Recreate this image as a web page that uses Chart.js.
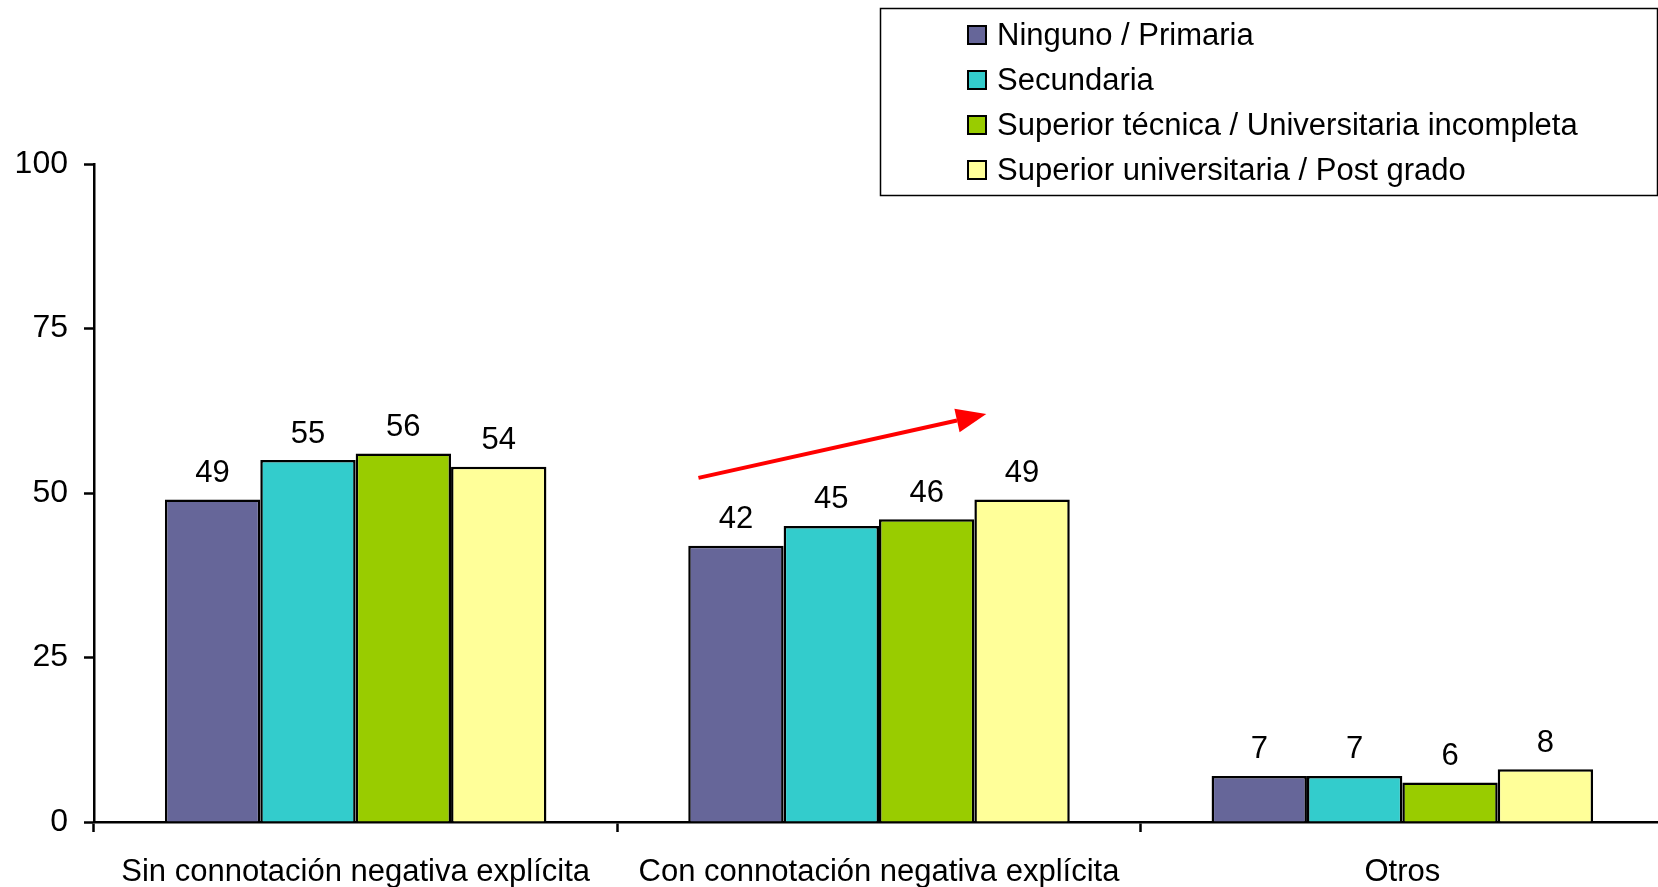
<!DOCTYPE html>
<html>
<head>
<meta charset="utf-8">
<script src="https://cdn.jsdelivr.net/npm/chart.js@4.4.1/dist/chart.umd.min.js"></script>
<style>
html,body{margin:0;padding:0;background:#fff;overflow:hidden;}
#wrap{width:1658px;height:887px;position:relative;overflow:hidden;}
canvas{display:block;}
</style>
</head>
<body>
<div id="wrap"><canvas id="c" width="1664" height="887"></canvas></div>
<script>
// ---- data ----
const categories = ["Sin connotación negativa explícita", "Con connotación negativa explícita", "Otros"];
const seriesNames = ["Ninguno / Primaria", "Secundaria", "Superior técnica / Universitaria incompleta", "Superior universitaria / Post grado"];
const ningunoPrimaria = [49, 42, 7];
const secundaria = [55, 45, 7];
const superiorTecnica = [56, 46, 6];
const superiorUniversitaria = [54, 49, 8];
const yTicks = [0, 25, 50, 75, 100];
// trend arrow annotation, in data space (category index, value)
const arrowFrom = [0.655, 52.3];
const arrowTo = [1.205, 62.0];

const colors = ["#666699", "#33CCCC", "#99CC00", "#FFFF99"];
const FONT = "'Liberation Sans', Arial, sans-serif";

const seriesValues = [ningunoPrimaria, secundaria, superiorTecnica, superiorUniversitaria];

const valueLabels = {
  id: 'valueLabels',
  afterDatasetsDraw(chart) {
    const ctx = chart.ctx;
    ctx.save();
    ctx.font = "31px " + FONT;
    ctx.fillStyle = "#000";
    ctx.textAlign = "center";
    ctx.textBaseline = "middle";
    chart.data.datasets.forEach((ds, i) => {
      chart.getDatasetMeta(i).data.forEach((el, j) => {
        ctx.fillText(String(ds.data[j]), el.x, el.y - 26);
      });
    });
    ctx.restore();
  }
};

const boxLegend = {
  id: 'boxLegend',
  afterDraw(chart) {
    const ctx = chart.ctx;
    ctx.save();
    ctx.strokeStyle = "#000";
    ctx.lineWidth = 1.5;
    ctx.strokeRect(880.5, 8.5, 777, 187);
    ctx.font = "31px " + FONT;
    ctx.textAlign = "left";
    ctx.textBaseline = "middle";
    chart.data.datasets.forEach((ds, i) => {
      const cy = 35 + i * 45;
      ctx.fillStyle = ds.backgroundColor;
      ctx.fillRect(968, cy - 9, 18, 18);
      ctx.lineWidth = 2;
      ctx.strokeRect(968, cy - 9, 18, 18);
      ctx.fillStyle = "#000";
      ctx.fillText(ds.label, 997, cy + 1);
    });
    ctx.restore();
  }
};

const trendArrow = {
  id: 'trendArrow',
  afterDatasetsDraw(chart) {
    const xs = chart.scales.x, ys = chart.scales.y;
    const x0 = xs.getPixelForValue(arrowFrom[0]), y0 = ys.getPixelForValue(arrowFrom[1]);
    const x1 = xs.getPixelForValue(arrowTo[0]), y1 = ys.getPixelForValue(arrowTo[1]);
    const ctx = chart.ctx;
    const ang = Math.atan2(y1 - y0, x1 - x0);
    const headLen = 30, headW = 12;
    const bx = x1 - headLen * Math.cos(ang), by = y1 - headLen * Math.sin(ang);
    ctx.save();
    ctx.strokeStyle = "#FF0000";
    ctx.fillStyle = "#FF0000";
    ctx.lineWidth = 4;
    ctx.beginPath();
    ctx.moveTo(x0, y0);
    ctx.lineTo(bx, by);
    ctx.stroke();
    ctx.beginPath();
    ctx.moveTo(x1, y1);
    ctx.lineTo(bx + headW * Math.sin(ang), by - headW * Math.cos(ang));
    ctx.lineTo(bx - headW * Math.sin(ang), by + headW * Math.cos(ang));
    ctx.closePath();
    ctx.fill();
    ctx.restore();
  }
};

new Chart(document.getElementById('c'), {
  type: 'bar',
  data: {
    labels: categories,
    datasets: seriesNames.map((name, i) => ({
      label: name,
      data: seriesValues[i],
      backgroundColor: colors[i],
      borderColor: "#000",
      borderWidth: 2.5,
      barPercentage: 1.0,
      categoryPercentage: 0.729
    }))
  },
  options: {
    responsive: false,
    animation: false,
    devicePixelRatio: 1,
    layout: { padding: { top: 164, right: 0, left: 0, bottom: 0 } },
    plugins: { legend: { display: false }, tooltip: { enabled: false } },
    scales: {
      x: {
        afterFit: s => { s.height = 65; },
        grid: { display: true, drawOnChartArea: false, drawTicks: true, tickLength: 10, tickWidth: 2.5, tickColor: "#000", offset: true },
        border: { display: true, color: "#000", width: 2.5 },
        ticks: { color: "#000", font: { family: FONT, size: 31 }, padding: 22, maxRotation: 0, autoSkip: false }
      },
      y: {
        min: 0, max: 100,
        afterFit: s => { s.width = 94; },
        afterBuildTicks: s => { s.ticks = yTicks.map(v => ({ value: v })); },
        grid: { display: true, drawOnChartArea: false, drawTicks: true, tickLength: 10, tickWidth: 2.5, tickColor: "#000" },
        border: { display: true, color: "#000", width: 2.5 },
        ticks: { color: "#000", font: { family: FONT, size: 32 }, padding: 16 }
      }
    }
  },
  plugins: [valueLabels, boxLegend, trendArrow]
});
</script>
</body>
</html>
